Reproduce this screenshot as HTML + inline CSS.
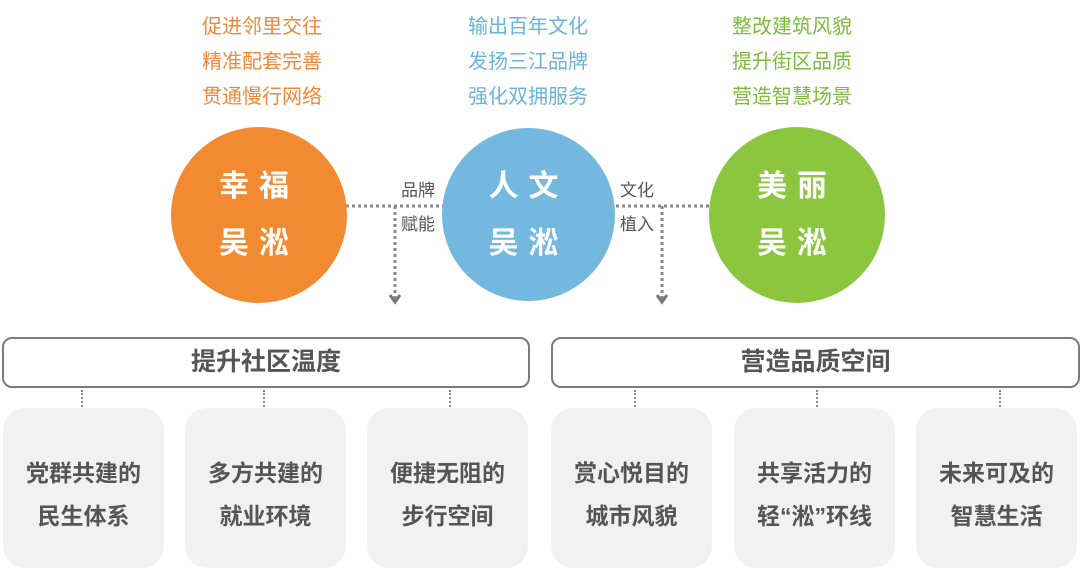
<!DOCTYPE html>
<html><head><meta charset="utf-8"><style>
body{margin:0;width:1080px;height:570px;background:#fff;position:relative;overflow:hidden;font-family:"Liberation Sans","Noto Sans CJK SC",sans-serif}
.t{position:absolute;font-size:20px;text-align:center;width:200px;line-height:35px}
.c{position:absolute;border-radius:50%;color:#fff;font-weight:bold;font-size:30px;text-align:center;letter-spacing:10px;display:flex;flex-direction:column;justify-content:center;line-height:57px}
.hd{position:absolute;top:337px;height:47px;border:2px solid #7a7a7a;border-radius:10px;font-size:25px;font-weight:bold;color:#555;text-align:center;line-height:47px}
.cd{position:absolute;top:408px;height:160px;width:161px;background:#f1f1f1;border-radius:22px;color:#555;font-weight:bold;font-size:23px;text-align:center;line-height:43px;display:flex;flex-direction:column;justify-content:center;padding-top:14px;box-sizing:border-box}
.vd{position:absolute;top:390px;height:17px;border-left:2px dotted #888}
.lb{position:absolute;font-size:17px;color:#555}
</style></head><body>
<div class="t" style="left:162px;top:10px;color:#f08a3a">促进邻里交往<br>精准配套完善<br>贯通慢行网络</div>
<div class="t" style="left:428px;top:10px;color:#6ab3dc">输出百年文化<br>发扬三江品牌<br>强化双拥服务</div>
<div class="t" style="left:692px;top:10px;color:#7dbb3c">整改建筑风貌<br>提升街区品质<br>营造智慧场景</div>
<svg style="position:absolute;left:0;top:0" width="1080" height="330">
<g stroke="#888" stroke-width="3" stroke-dasharray="3 3" fill="none">
<line x1="340" y1="206" x2="720" y2="206"/>
<line x1="395" y1="206" x2="395" y2="300"/>
<line x1="662" y1="206" x2="662" y2="300"/>
</g>
<g stroke="#777" stroke-width="3" fill="none">
<polyline points="390,295 395,302 400,295"/><polyline points="657,295 662,302 667,295"/>
</g>
</svg>
<div class="lb" style="left:401px;top:176px">品牌</div>
<div class="lb" style="left:401px;top:210px">赋能</div>
<div class="lb" style="left:620px;top:176px">文化</div>
<div class="lb" style="left:620px;top:210px">植入</div>
<div class="c" style="left:171px;top:127px;width:176px;height:176px;background:#f28a32"><div>幸福</div><div>吴淞</div></div>
<div class="c" style="left:442px;top:128px;width:173px;height:173px;background:#74b8e0"><div>人文</div><div>吴淞</div></div>
<div class="c" style="left:709px;top:127px;width:176px;height:176px;background:#8cc63f"><div>美丽</div><div>吴淞</div></div>
<div class="hd" style="left:2px;width:524px">提升社区温度</div>
<div class="hd" style="left:551px;width:525px">营造品质空间</div>
<div class="vd" style="left:81px"></div><div class="vd" style="left:263px"></div><div class="vd" style="left:449px"></div>
<div class="vd" style="left:634px"></div><div class="vd" style="left:816px"></div><div class="vd" style="left:999px"></div>
<div class="cd" style="left:3px"><div>党群共建的</div><div>民生体系</div></div>
<div class="cd" style="left:185px"><div>多方共建的</div><div>就业环境</div></div>
<div class="cd" style="left:367px"><div>便捷无阻的</div><div>步行空间</div></div>
<div class="cd" style="left:551px"><div>赏心悦目的</div><div>城市风貌</div></div>
<div class="cd" style="left:734px"><div>共享活力的</div><div>轻“淞”环线</div></div>
<div class="cd" style="left:916px"><div>未来可及的</div><div>智慧生活</div></div>
</body></html>
